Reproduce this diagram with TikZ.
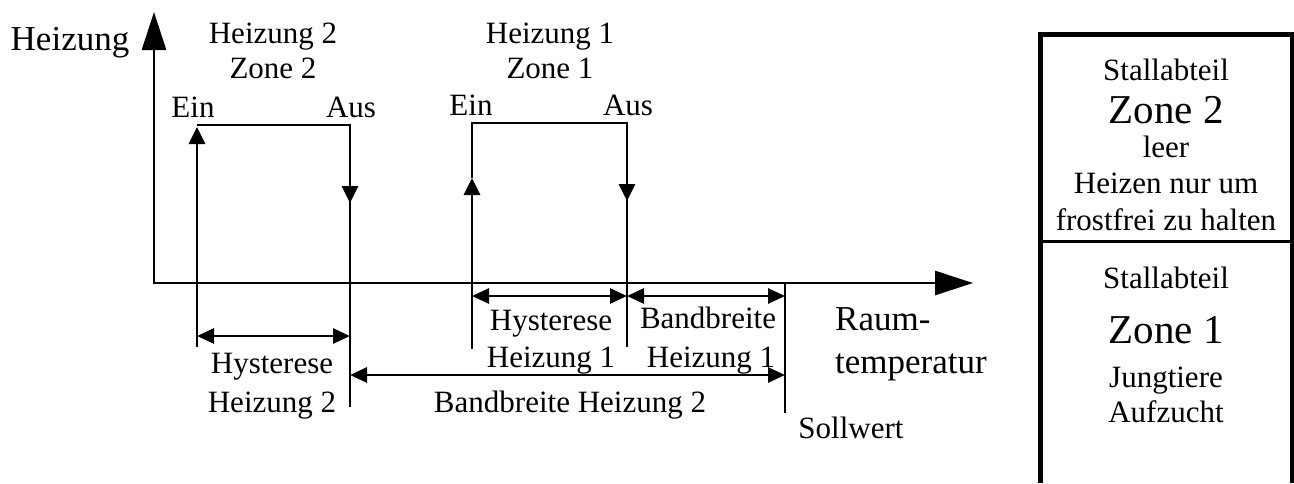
\documentclass[tikz,border=0pt]{standalone}
\usepackage{fontspec}
\setmainfont{Liberation Serif}
\usetikzlibrary{arrows.meta}
\begin{document}
\begin{tikzpicture}[x=1pt,y=-1pt,
  ln/.style={line width=2.8pt},
  bigtip/.style={-{Triangle[length=38pt,width=24pt]}},
  midtip/.style={-{Triangle[length=17pt,width=16pt]}},
  dimarrow/.style={line width=2.8pt,{Triangle[length=17pt,width=15pt]}-{Triangle[length=17pt,width=15pt]}},
  lbl/.style={anchor=base,inner sep=0pt,font=\fontsize{31}{37}\selectfont},
  axlbl/.style={anchor=base,inner sep=0pt,font=\fontsize{35}{42}\selectfont},
  zonelbl/.style={anchor=base,inner sep=0pt,font=\fontsize{41}{48}\selectfont},
]
\useasboundingbox (0,0) rectangle (1294,483);
% coordinates
\coordinate (O) at (154,283);
\coordinate (ytop) at (154,12);
\coordinate (xend) at (973,283);
% Heizung 2 loop
\coordinate (a2b) at (197,347);
\coordinate (a2t) at (197,125);
\coordinate (a2tip) at (197,127);
\coordinate (b2t) at (350,125);
\coordinate (b2m) at (350,203);
\coordinate (b2b) at (350,407);
% Heizung 1 loop
\coordinate (a1b) at (472,349);
\coordinate (a1m) at (472,178);
\coordinate (a1t) at (472,123);
\coordinate (b1t) at (627,123);
\coordinate (b1m) at (627,201);
\coordinate (b1b) at (627,347);
% Sollwert
\coordinate (sT) at (785,283);
\coordinate (sB) at (785,413);
% dimension ends
\coordinate (h1l) at (472,296);
\coordinate (h1r) at (627,296);
\coordinate (bb1r) at (785,296);
\coordinate (h2l) at (197,336);
\coordinate (h2r) at (350,336);
\coordinate (bb2l) at (350,375);
\coordinate (bb2r) at (785,375);

% axes
\draw[ln,{Triangle[length=38pt,width=24pt]}-{Triangle[length=38pt,width=24pt]}] (ytop) -- (O) -- (xend);

% Heizung 2 loop
\draw[ln,midtip] (a2b) -- (a2tip);
\draw[ln] (a2t) -- (b2t) -- (b2m);
\draw[ln,midtip] (b2t) -- (b2m);
\draw[ln] (b2m) -- (b2b);

% Heizung 1 loop
\draw[ln,midtip] (a1b) -- (a1m);
\draw[ln] (a1m) -- (a1t) -- (b1t) -- (b1m);
\draw[ln,midtip] (b1t) -- (b1m);
\draw[ln] (b1m) -- (b1b);

% Sollwert line
\draw[ln] (sT) -- (sB);

% dimension arrows
\draw[dimarrow] (h1l) -- (h1r);
\draw[dimarrow] (h1r) -- (bb1r);
\draw[dimarrow] (h2l) -- (h2r);
\draw[dimarrow] (bb2l) -- (bb2r);

% labels
\node[axlbl] (lHeiz) at (70,50) {Heizung};
\node[lbl] (lH2) at (273,43) {Heizung 2};
\node[lbl] (lZ2) at (273,78) {Zone 2};
\node[lbl] (lEin2) at (193,117) {Ein};
\node[lbl] (lAus2) at (351,117) {Aus};
\node[lbl] (lH1) at (550,43) {Heizung 1};
\node[lbl] (lZ1) at (550,78) {Zone 1};
\node[lbl] (lEin1) at (471,115) {Ein};
\node[lbl] (lAus1) at (628,115) {Aus};

\node[lbl] (lHy1a) at (551,330) {Hysterese};
\node[lbl] (lHy1b) at (551,367) {Heizung 1};
\node[lbl] (lBb1a) at (708,328) {Bandbreite};
\node[lbl] (lBb1b) at (711,367) {Heizung 1};
\node[lbl] (lHy2a) at (272,373) {Hysterese};
\node[lbl] (lHy2b) at (272,412) {Heizung 2};
\node[lbl] (lBb2) at (570,412) {Bandbreite Heizung 2};
\node[axlbl,anchor=base west] (lRaum) at (835,330) {Raum-};
\node[axlbl,anchor=base west] (lTemp) at (835,373) {temperatur};
\node[lbl] (lSoll) at (851,438) {Sollwert};

% right box
\draw[line width=5pt] (1040,483) -- (1040,34.5) -- (1292,34.5) -- (1292,483);
\draw[line width=3pt] (1040,241.5) -- (1292,241.5);
\node[lbl] (bS2) at (1166,80) {Stallabteil};
\node[zonelbl] (bZ2) at (1166,123) {Zone 2};
\node[lbl] (bL) at (1166,157) {leer};
\node[lbl] (bH) at (1166,193) {Heizen nur um};
\node[lbl] (bF) at (1166,230) {frostfrei zu halten};
\node[lbl] (bS1) at (1166,288) {Stallabteil};
\node[zonelbl] (bZ1) at (1166,343) {Zone 1};
\node[lbl] (bJ) at (1166,387) {Jungtiere};
\node[lbl] (bA) at (1166,422) {Aufzucht};
\end{tikzpicture}
\end{document}
